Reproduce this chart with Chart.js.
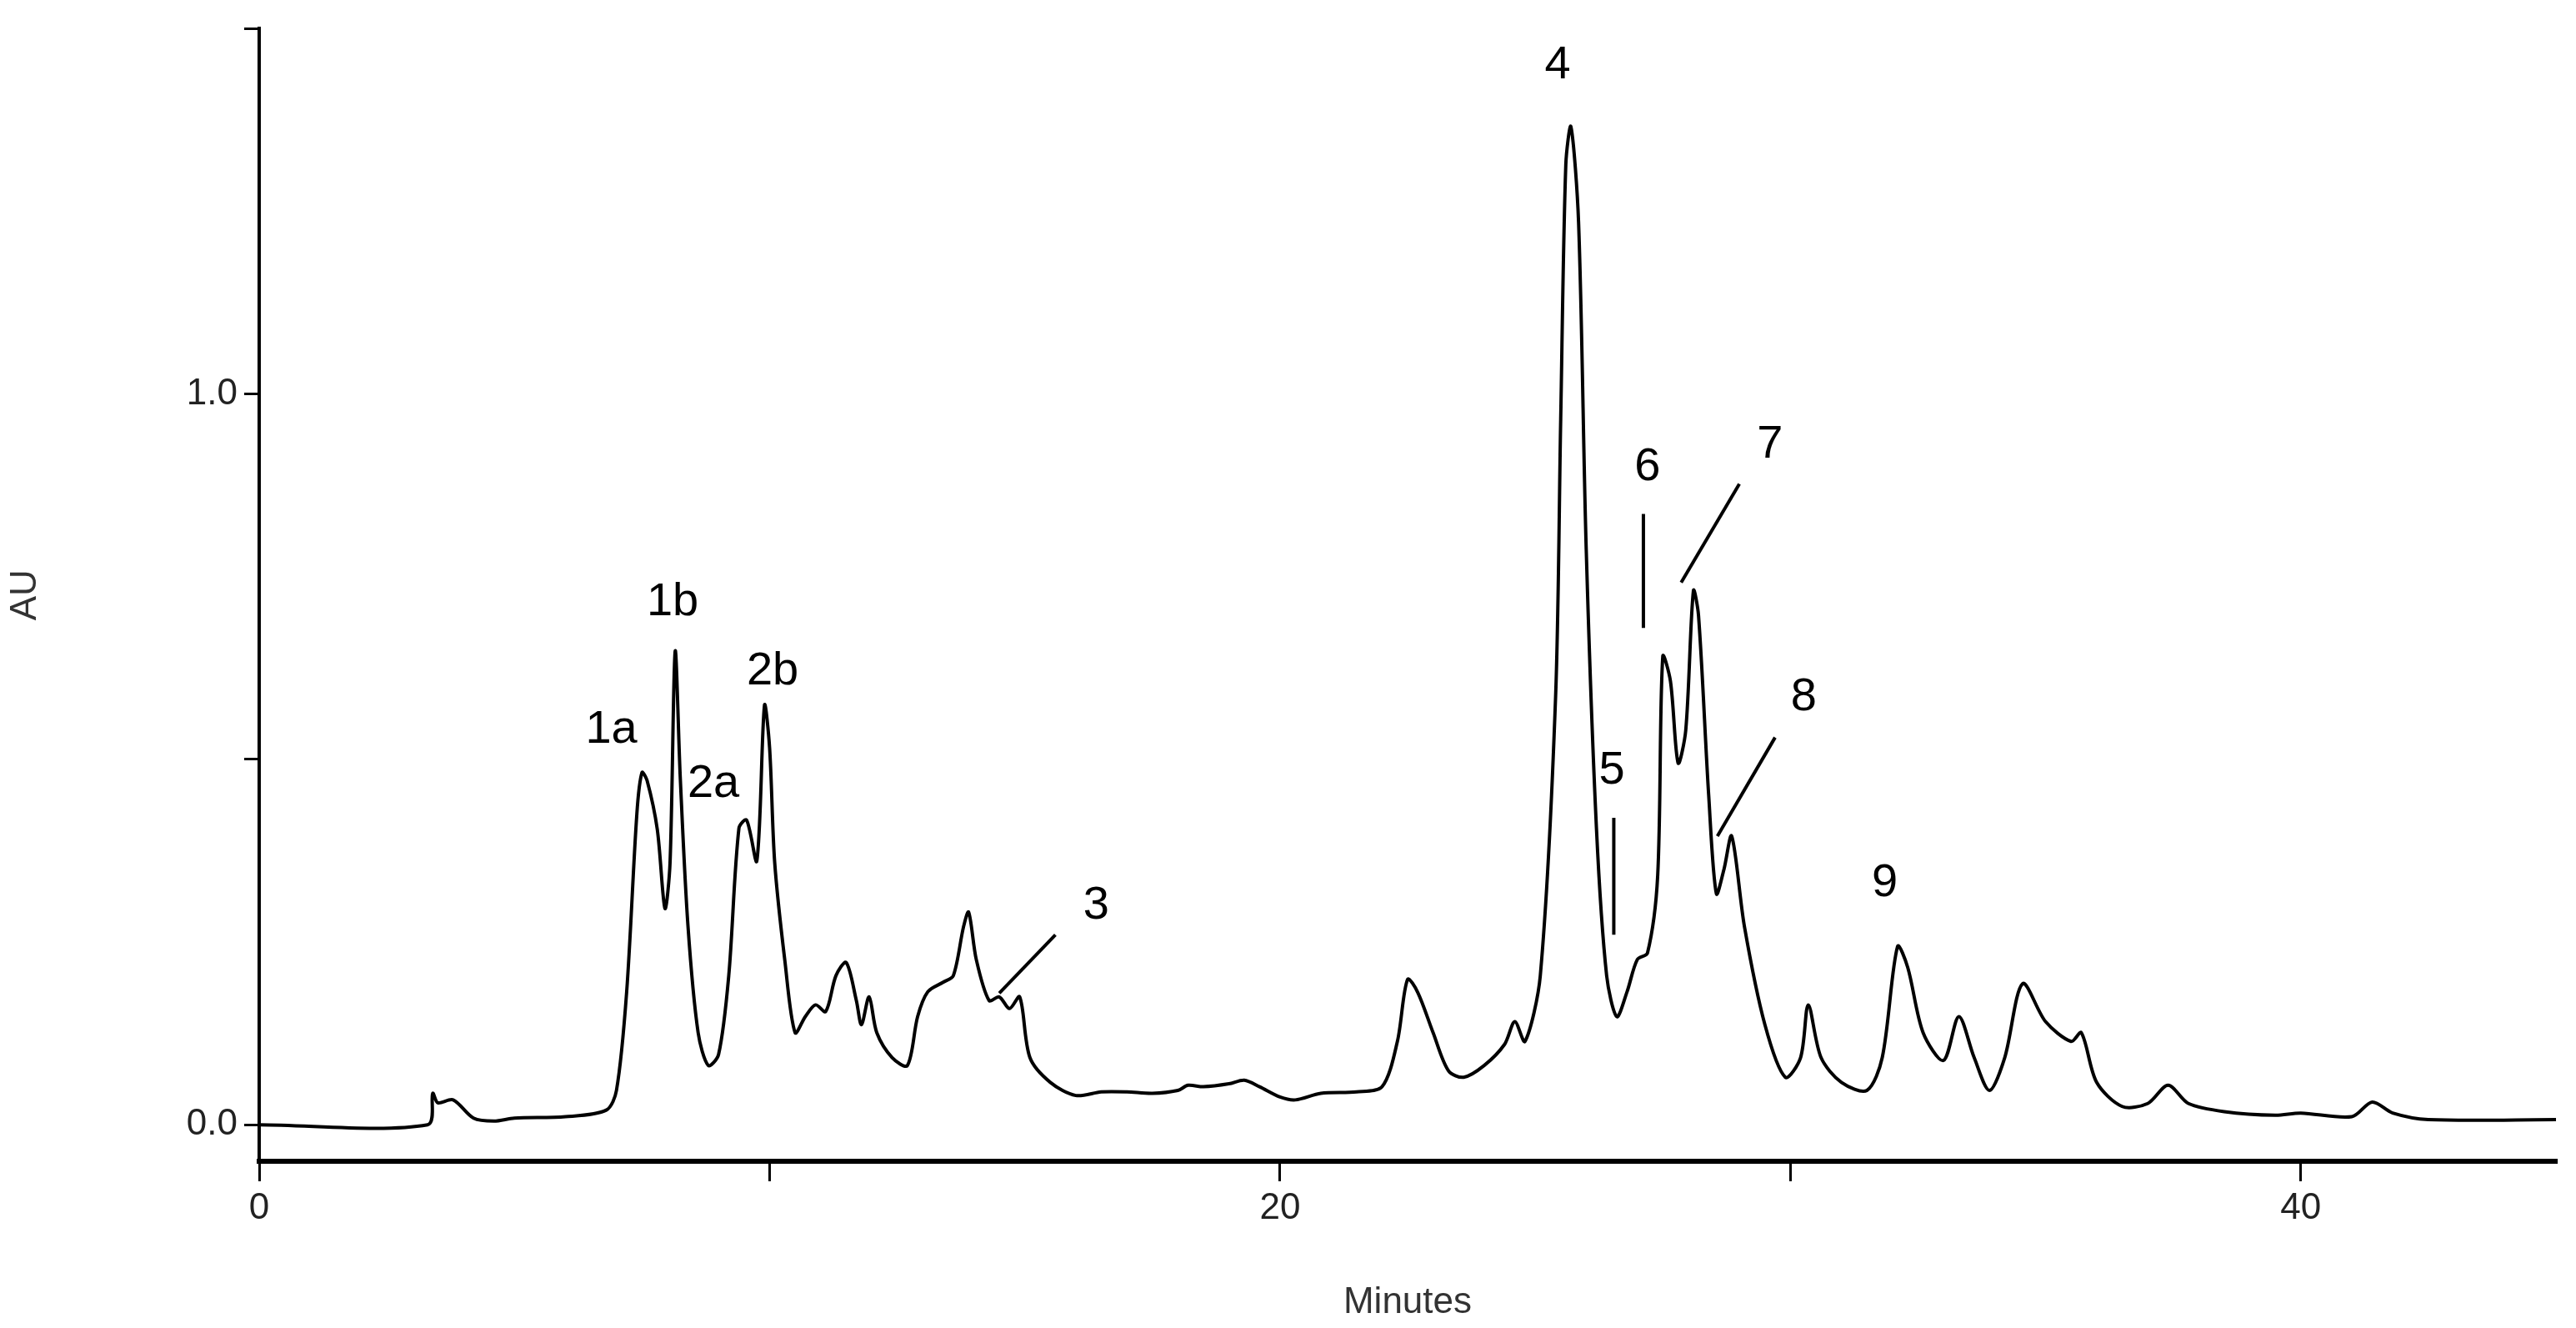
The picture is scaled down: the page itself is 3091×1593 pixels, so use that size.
<!DOCTYPE html>
<html>
<head>
<meta charset="utf-8">
<script src="https://cdn.jsdelivr.net/npm/chart.js@4"></script>
<style>
  html, body { margin: 0; padding: 0; background: #fff; }
  #wrap { width: 3091px; height: 1593px; }
</style>
</head>
<body>
<div id="wrap"><canvas id="chrom"></canvas></div>
<script>
// retention time (minutes) and absorbance (AU)
const minutes = [0, 3.3, 3.4, 3.5, 3.8, 4.2, 4.6, 5, 6, 6.8, 7.0, 7.2, 7.4, 7.5, 7.6, 7.8, 7.95, 8.05, 8.15, 8.25, 8.4, 8.6, 8.8, 9.0, 9.2, 9.4, 9.55, 9.75, 9.9, 10.0, 10.1, 10.3, 10.5, 10.7, 10.9, 11.1, 11.3, 11.5, 11.7, 11.8, 11.95, 12.1, 12.4, 12.7, 12.9, 13.1, 13.4, 13.6, 13.8, 13.9, 14.05, 14.3, 14.5, 14.7, 14.9, 15.1, 15.5, 16.0, 16.5, 17, 17.5, 18.0, 18.2, 18.5, 19, 19.3, 19.6, 20, 20.3, 20.8, 21.5, 22, 22.3, 22.5, 22.7, 23, 23.3, 23.6, 24, 24.4, 24.6, 24.8, 25.1, 25.4, 25.5, 25.6, 25.7, 25.85, 26, 26.2, 26.4, 26.6, 26.8, 27, 27.2, 27.4, 27.5, 27.65, 27.8, 27.95, 28.1, 28.2, 28.4, 28.55, 28.7, 28.85, 29.1, 29.5, 29.9, 30.2, 30.35, 30.6, 31, 31.5, 31.8, 32.1, 32.3, 32.6, 33, 33.3, 33.6, 33.9, 34.2, 34.55, 35, 35.5, 35.7, 36, 36.5, 37, 37.4, 37.8, 38.5, 39.5, 40, 41, 41.4, 41.8, 42.5, 45];
const absorbance = [0, 0, 0.043, 0.03, 0.034, 0.009, 0.005, 0.009, 0.011, 0.02, 0.047, 0.182, 0.426, 0.482, 0.471, 0.404, 0.296, 0.359, 0.648, 0.475, 0.273, 0.126, 0.081, 0.096, 0.204, 0.406, 0.417, 0.361, 0.574, 0.516, 0.359, 0.224, 0.126, 0.148, 0.164, 0.155, 0.204, 0.222, 0.170, 0.137, 0.175, 0.126, 0.092, 0.081, 0.148, 0.182, 0.195, 0.204, 0.271, 0.291, 0.226, 0.170, 0.175, 0.159, 0.175, 0.092, 0.058, 0.040, 0.045, 0.045, 0.043, 0.047, 0.054, 0.052, 0.056, 0.061, 0.052, 0.038, 0.034, 0.043, 0.045, 0.052, 0.114, 0.199, 0.181, 0.126, 0.074, 0.065, 0.081, 0.110, 0.141, 0.114, 0.204, 0.586, 0.966, 1.314, 1.366, 1.235, 0.787, 0.406, 0.204, 0.148, 0.182, 0.226, 0.235, 0.341, 0.641, 0.607, 0.495, 0.540, 0.731, 0.697, 0.450, 0.316, 0.350, 0.395, 0.271, 0.137, 0.065, 0.092, 0.164, 0.092, 0.058, 0.047, 0.092, 0.244, 0.215, 0.126, 0.088, 0.148, 0.092, 0.047, 0.092, 0.193, 0.141, 0.114, 0.126, 0.058, 0.025, 0.029, 0.054, 0.029, 0.018, 0.013, 0.016, 0.011, 0.031, 0.016, 0.007, 0.007];

// peak labels: text, position (min, AU)
const peakNames = ["1a", "1b", "2a", "2b", "3", "4", "5", "6", "7", "8", "9"];
const peakLabelX = [6.9, 8.1, 8.9, 10.06, 16.4, 25.44, 26.5, 27.2, 29.6, 30.26, 31.85];
const peakLabelY = [0.54, 0.715, 0.466, 0.62, 0.30, 1.45, 0.485, 0.90, 0.93, 0.585, 0.33];
// leader lines: [x1, y1, x2, y2] in minutes / AU
const leaderLines = [
  [14.5, 0.18, 15.6, 0.26],
  [26.54, 0.42, 26.54, 0.26],
  [27.12, 0.836, 27.12, 0.68],
  [29.0, 0.877, 27.86, 0.742],
  [29.7, 0.53, 28.57, 0.395]
];

const xTicks = [0, 10, 20, 30, 40];
const xTickLabels = ["0", "", "20", "", "40"];
const yTicks = [0, 0.5, 1.0, 1.5];
const yTickLabels = ["0.0", "", "1.0", ""];

const FONT = "'Liberation Sans', Arial, sans-serif";

const peakLabels = {
  id: "peakLabels",
  afterDatasetsDraw(chart) {
    const ctx = chart.ctx;
    const xs = chart.scales.x, ys = chart.scales.y;
    ctx.save();
    ctx.strokeStyle = "#000";
    ctx.lineWidth = 4;
    leaderLines.forEach(l => {
      ctx.beginPath();
      ctx.moveTo(xs.getPixelForValue(l[0]), ys.getPixelForValue(l[1]));
      ctx.lineTo(xs.getPixelForValue(l[2]), ys.getPixelForValue(l[3]));
      ctx.stroke();
    });
    ctx.fillStyle = "#000";
    ctx.font = "56px " + FONT;
    ctx.textAlign = "center";
    ctx.textBaseline = "middle";
    peakNames.forEach((name, i) => {
      ctx.fillText(name, xs.getPixelForValue(peakLabelX[i]), ys.getPixelForValue(peakLabelY[i]));
    });
    ctx.restore();
  }
};

new Chart(document.getElementById("chrom"), {
  type: "line",
  data: {
    datasets: [{
      data: minutes.map((m, i) => ({ x: m, y: absorbance[i] })),
      borderColor: "#000",
      borderWidth: 4,
      pointRadius: 0,
      tension: 0.3,
      fill: false
    }]
  },
  options: {
    responsive: true,
    maintainAspectRatio: false,
    animation: false,
    layout: { padding: { top: 24, right: 24, left: 0, bottom: 0 } },
    plugins: { legend: { display: false }, tooltip: { enabled: false } },
    scales: {
      x: {
        type: "linear",
        min: 0,
        max: 45,
        afterBuildTicks: s => { s.ticks = xTicks.map(v => ({ value: v })); },
        afterFit: s => { s.height = 200; },
        border: { color: "#000", width: 6 },
        grid: { drawOnChartArea: false, color: "#000", lineWidth: 3, tickLength: 24 },
        ticks: {
          color: "#222",
          font: { size: 44, family: FONT },
          padding: 6,
          maxRotation: 0,
          callback: (v, i) => xTickLabels[i]
        },
        title: { display: true, text: "Minutes", color: "#333", font: { size: 44, family: FONT }, padding: { top: 0 } }
      },
      y: {
        min: -0.05,
        max: 1.5,
        afterBuildTicks: s => { s.ticks = yTicks.map(v => ({ value: v })); },
        afterFit: s => { s.width = 311; },
        border: { color: "#000", width: 4 },
        grid: { drawOnChartArea: false, color: "#000", lineWidth: 3, tickLength: 18 },
        ticks: {
          color: "#222",
          font: { size: 44, family: FONT },
          padding: 8,
          callback: (v, i) => yTickLabels[i]
        },
        title: { display: true, text: "AU", color: "#333", font: { size: 44, family: FONT }, padding: { bottom: 60 } }
      }
    }
  },
  plugins: [peakLabels]
});
</script>
</body>
</html>
